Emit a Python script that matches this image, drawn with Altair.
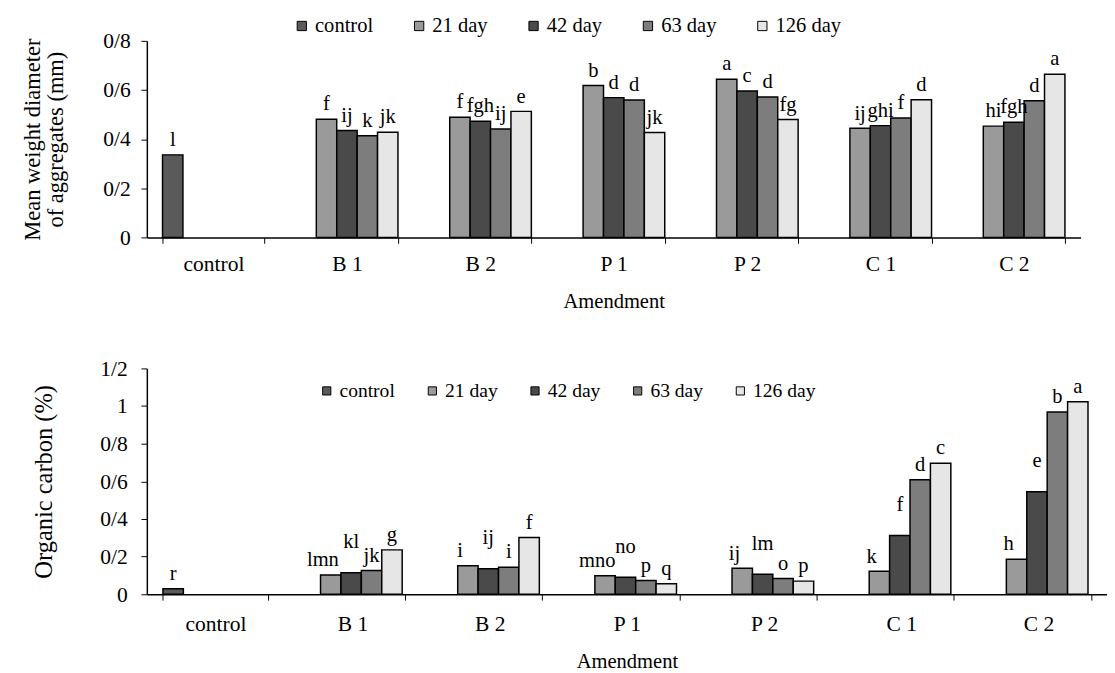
import altair as alt
import pandas as pd

categories = ["control", "B 1", "B 2", "P 1", "P 2", "C 1", "C 2"]
series = ["control", "21 day", "42 day", "63 day", "126 day"]
treatments = ["B 1", "B 2", "P 1", "P 2", "C 1", "C 2"]

# Mean weight diameter of aggregates (mm)
mwd_control = 0.336
mwd_control_letter = "l"
mwd_21 = [0.481, 0.489, 0.618, 0.644, 0.444, 0.453]
mwd_42 = [0.435, 0.473, 0.569, 0.596, 0.455, 0.469]
mwd_63 = [0.414, 0.441, 0.559, 0.572, 0.486, 0.556]
mwd_126 = [0.428, 0.513, 0.427, 0.480, 0.560, 0.664]
mwd_21_let = ["f", "f", "b", "a", "ij", "hi"]
mwd_42_let = ["ij", "fgh", "d", "c", "ghi", "fgh"]
mwd_63_let = ["k", "ij", "d", "d", "f", "d"]
mwd_126_let = ["jk", "e", "jk", "fg", "d", "a"]

# Organic carbon (%)
oc_control = 0.030
oc_control_letter = "r"
oc_21 = [0.103, 0.152, 0.098, 0.138, 0.122, 0.186]
oc_42 = [0.114, 0.136, 0.091, 0.107, 0.312, 0.545]
oc_63 = [0.126, 0.144, 0.073, 0.084, 0.609, 0.969]
oc_126 = [0.236, 0.302, 0.056, 0.070, 0.696, 1.023]
oc_21_let = ["lmn", "i", "mno", "ij", "k", "h"]
oc_42_let = ["kl", "ij", "no", "lm", "f", "e"]
oc_63_let = ["jk", "i", "p", "o", "d", "b"]
oc_126_let = ["g", "f", "q", "p", "c", "a"]

fills = ["#5a5a5a", "#9a9a9a", "#4a4a4a", "#7d7d7d", "#e6e6e6"]
FONT = "Liberation Serif"


def build(control_v, control_l, vals, lets):
    rows = [{"Amendment": "control", "series": "control", "v": control_v, "lab": control_l}]
    for s, vv, ll in zip(series[1:], vals, lets):
        for t, v, l in zip(treatments, vv, ll):
            rows.append({"Amendment": t, "series": s, "v": v, "lab": l})
    return pd.DataFrame(rows)


df_top = build(mwd_control, mwd_control_letter,
               [mwd_21, mwd_42, mwd_63, mwd_126],
               [mwd_21_let, mwd_42_let, mwd_63_let, mwd_126_let])
df_bot = build(oc_control, oc_control_letter,
               [oc_21, oc_42, oc_63, oc_126],
               [oc_21_let, oc_42_let, oc_63_let, oc_126_let])

label_expr = "replace(format(datum.value, '~g'), '.', '/')"


def panel(df, ymax, yticks, ytitle, ytitle_size, ylabpad, ytitlepad, xlabpad,
          w, h, lx, ly, lfont, lsym, lpad, nudges):
    x = alt.X("Amendment:N", sort=categories,
              scale=alt.Scale(domain=categories, paddingInner=0.235, paddingOuter=0.1175),
              axis=alt.Axis(title="Amendment", labelAngle=0, tickBand="extent",
                            domainColor="black", tickColor="black", tickSize=6,
                            labelFont=FONT, labelFontSize=22, labelColor="black",
                            labelPadding=xlabpad, titleFont=FONT, titleFontSize=21,
                            titleFontWeight="normal", titleColor="black", titlePadding=17))
    xo = alt.XOffset("series:N", sort=series,
                     scale=alt.Scale(domain=series, paddingInner=0, paddingOuter=0))
    y = alt.Y("v:Q", scale=alt.Scale(domain=[0, ymax], nice=False),
              axis=alt.Axis(title=ytitle, values=yticks, tickCount=20,
                            labelExpr=label_expr, grid=False, labelOverlap=False,
                            domainColor="black", tickColor="black", tickSize=6,
                            labelFont=FONT, labelFontSize=22, labelColor="black",
                            labelPadding=ylabpad, titleFont=FONT, titleFontSize=ytitle_size,
                            titleFontWeight="normal", titleColor="black",
                            titleLineHeight=24, titlePadding=ytitlepad))
    color = alt.Color("series:N", sort=series,
                      scale=alt.Scale(domain=series, range=fills),
                      legend=alt.Legend(title=None, orient="none", direction="horizontal",
                                        legendX=lx, legendY=ly, symbolType="square",
                                        symbolSize=lsym, symbolStrokeColor="black",
                                        symbolStrokeWidth=1, labelFont=FONT,
                                        labelFontSize=lfont, labelColor="black",
                                        labelOffset=3, columnPadding=lpad, padding=0))
    layers = [alt.Chart(df).mark_bar(stroke="black", strokeWidth=1.5).encode(
        x=x, xOffset=xo, y=y, color=color)]
    tx = alt.X("Amendment:N", sort=categories)
    txo = alt.XOffset("series:N", sort=series)
    for s in series:
        ndx, ndy = nudges.get(s, (0, 0))
        layers.append(
            alt.Chart(df).transform_filter(alt.datum.series == s).mark_text(
                font=FONT, fontSize=21, baseline="alphabetic", dx=ndx, dy=-9 + ndy,
                color="black").encode(x=tx, xOffset=txo, y="v:Q", text="lab:N"))
    return alt.layer(*layers).properties(width=w, height=h)


top = panel(df_top, 0.8, [0, 0.2, 0.4, 0.6, 0.8],
            ["Mean weight diameter", "of aggregates (mm)"], 23, 11, 36, 11,
            955, 201, 148, -26, 21, 90, 36, {})
bot = panel(df_bot, 1.2, [0, 0.2, 0.4, 0.6, 0.8, 1.0, 1.2],
            "Organic carbon (%)", 25, 14, 44, 14,
            982, 231, 174, 13, 20, 70, 28, {"21 day": (-8, 0), "42 day": (0, -16)})

chart = alt.vconcat(top, bot, spacing=47).resolve_scale(
    color="independent"
).resolve_legend(color="independent").properties(
    padding={"left": 13, "top": 0, "right": 0, "bottom": 0}
).configure_view(stroke=None).configure_axisY(domainWidth=1.5).configure_axisX(domainWidth=1.5)

chart.save("out.html", embed_options={"renderer": "svg", "actions": False})
